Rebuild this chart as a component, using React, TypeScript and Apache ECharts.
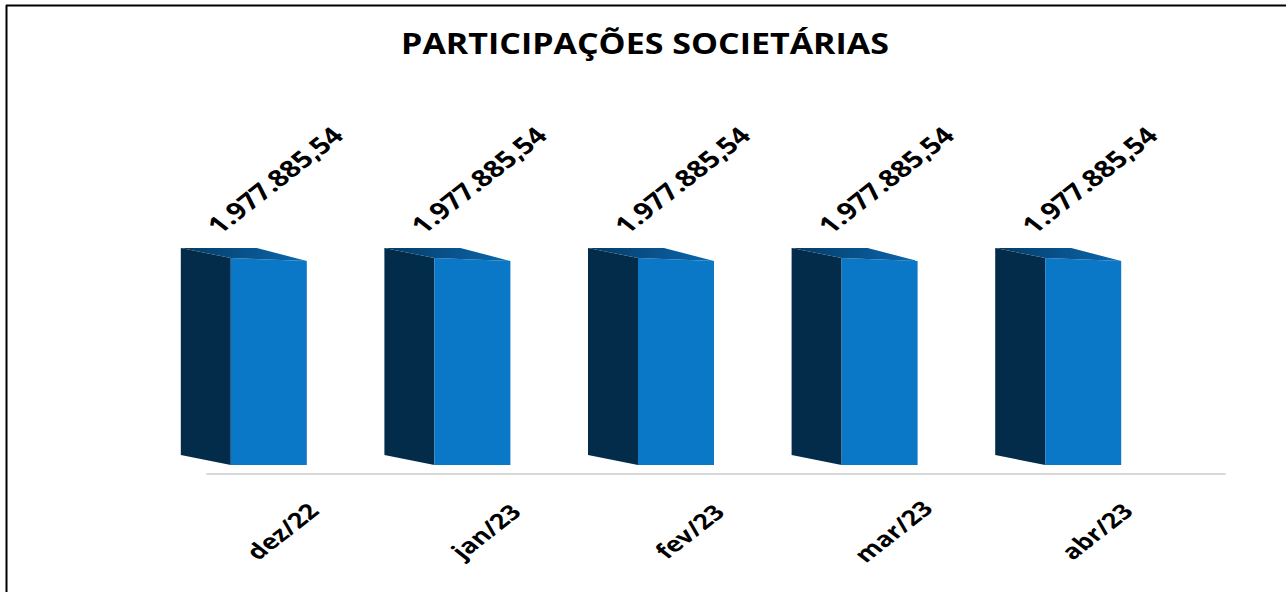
import React, { useEffect, useRef } from "react";
import * as echarts from "echarts";

const title = "PARTICIPAÇÕES SOCIETÁRIAS";
const categories = ["dez/22", "jan/23", "fev/23", "mar/23", "abr/23"];
const values = [1977885.54, 1977885.54, 1977885.54, 1977885.54, 1977885.54];

function formatBR(v: number): string {
  const fixed = v.toFixed(2);
  const [intPart, dec] = fixed.split(".");
  const withDots = intPart.replace(/\B(?=(\d{3})+(?!\d))/g, ".");
  return withDots + "," + dec;
}

const FONT = '"Open Sans", "DejaVu Sans", sans-serif';
const K = 0.78;

export default function App() {
  const ref = useRef<HTMLDivElement>(null);
  useEffect(() => {
    if (!ref.current) return;
    const chart = echarts.init(ref.current, undefined, { renderer: "svg" });
    const option: any = {
      animation: false,
      backgroundColor: "#ffffff",
      grid: { left: 207, right: 61, top: 149.4, bottom: 118 },
      xAxis: {
        type: "category",
        data: categories,
        axisLine: { show: true, lineStyle: { color: "#d9d9d9", width: 2 } },
        axisTick: { show: false },
        axisLabel: { show: false },
        splitLine: { show: false },
      },
      yAxis: {
        type: "value",
        min: 0,
        max: 3000000,
        show: false,
        splitLine: { show: false },
      },
      graphic: [
        {
          type: "line",
          shape: { x1: 6, y1: 5.5, x2: 1286, y2: 5.5 },
          style: { stroke: "#000000", lineWidth: 2 },
        },
        {
          type: "line",
          shape: { x1: 6.5, y1: 5, x2: 6.5, y2: 592 },
          style: { stroke: "#000000", lineWidth: 2 },
        },
        {
          type: "text",
          x: 645,
          y: 43,
          scaleY: 0.83,
          style: {
            text: title,
            fontFamily: FONT,
            fontWeight: "bold",
            fontSize: 34,
            fill: "#000000",
            align: "center",
            verticalAlign: "middle",
          },
        },
      ],
      series: [
        {
          type: "custom",
          clip: false,
          data: values.map((v, i) => [i, v]),
          renderItem: (params: any, api: any) => {
            const idx = api.value(0);
            const v = api.value(1);
            const top = api.coord([idx, v]);
            const base = api.coord([idx, 0]);
            const c = top[0];
            const yv = top[1];
            const y0 = base[1];
            const side = [
              [c - 128, yv - 12],
              [c - 78, yv - 2],
              [c - 78, y0 - 9],
              [c - 128, y0 - 19],
            ];
            const front = [
              [c - 78, yv - 2],
              [c - 2, yv + 1],
              [c - 2, y0 - 9],
              [c - 78, y0 - 9],
            ];
            const topFace = [
              [c - 128, yv - 12],
              [c - 52, yv - 12],
              [c - 2, yv + 1],
              [c - 78, yv - 2],
            ];
            return {
              type: "group",
              children: [
                {
                  type: "polygon",
                  shape: { points: side },
                  style: { fill: "#032c4b" },
                },
                {
                  type: "polygon",
                  shape: { points: front },
                  style: { fill: "#0a77c7" },
                },
                {
                  type: "polygon",
                  shape: { points: topFace },
                  style: {
                    fill: new echarts.graphic.LinearGradient(0, 0, 1, 0, [
                      { offset: 0, color: "#053a63" },
                      { offset: 1, color: "#0a68b0" },
                    ]),
                  },
                },
                {
                  type: "group",
                  x: c - 34,
                  y: yv - 80,
                  scaleY: K,
                  children: [
                    {
                      type: "text",
                      rotation: Math.PI / 4,
                      style: {
                        text: formatBR(v),
                        fontFamily: FONT,
                        fontWeight: "bold",
                        fontSize: 29.5,
                        fill: "#000000",
                        align: "center",
                        verticalAlign: "middle",
                      },
                    },
                  ],
                },
                {
                  type: "group",
                  x: c - 27,
                  y: y0 + 57,
                  scaleY: K,
                  children: [
                    {
                      type: "text",
                      rotation: Math.PI / 4,
                      style: {
                        text: categories[idx],
                        fontFamily: FONT,
                        fontWeight: "bold",
                        fontSize: 27,
                        fill: "#000000",
                        align: "center",
                        verticalAlign: "middle",
                      },
                    },
                  ],
                },
              ],
            };
          },
        },
      ],
    };
    chart.setOption(option);
    return () => chart.dispose();
  }, []);
  return (
    <div
      style={{
        position: "fixed",
        left: 0,
        top: 0,
        width: 1286,
        height: 592,
        background: "#ffffff",
      }}
    >
      <div ref={ref} style={{ width: 1286, height: 592 }} />
    </div>
  );
}
